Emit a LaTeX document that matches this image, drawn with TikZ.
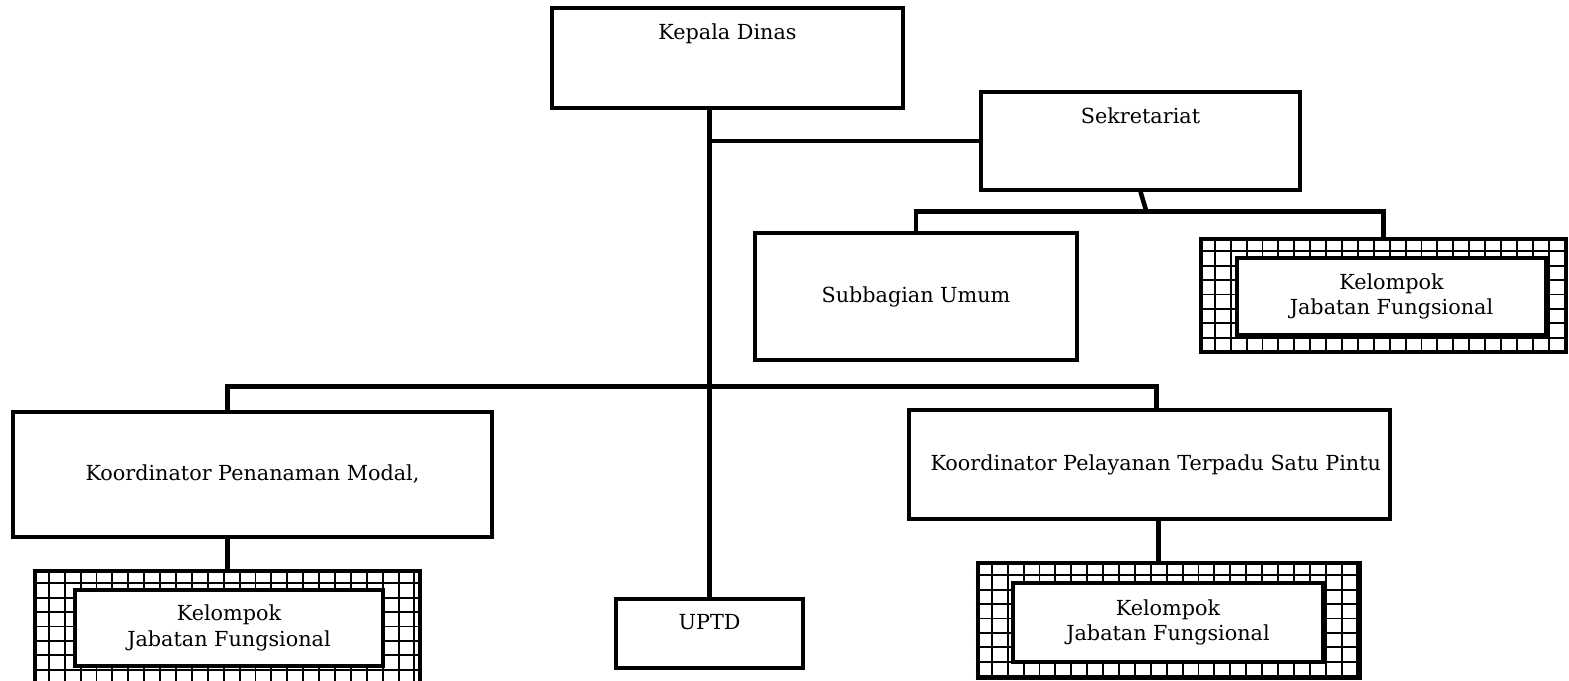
\documentclass[tikz,border=0pt]{standalone}
\usepackage{fontspec}
\setmainfont{DejaVu Serif}
\usetikzlibrary{calc}
\tikzset{
    unit/.style={draw,line width=2pt,inner sep=0pt,align=center},
    toptext/.style={label={[anchor=north,yshift=-0.22cm]north:#1}},
    jfouter/.style={draw,line width=2.4pt,inner sep=0pt},
    jfinner/.style={draw,line width=2.6pt,fill=white,inner sep=0pt,align=center},
    gridline/.style={line width=1.1pt},
    conn/.style={line width=2.6pt}
}
\begin{document}
\begin{tikzpicture}[x=0.02cm,y=-0.02cm,font=\fontsize{11.8}{14.5}\selectfont]
        \useasboundingbox (0,0) rectangle (1569,680);
        %% units
        \node[unit,minimum width=7.02cm,minimum height=2cm,toptext=Kepala Dinas] (kepala) at (727.5,58) {};
        \node[unit,minimum width=6.38cm,minimum height=1.96cm,toptext=Sekretariat] (sekretariat) at (1140.5,141) {};
        \node[unit,minimum width=6.44cm,minimum height=2.54cm] (subbagian) at (916,296.5) {Subbagian Umum};
        \node[unit,minimum width=9.58cm,minimum height=2.5cm] (penanaman) at (252.5,474.5) {Koordinator Penanaman Modal,};
        \node[unit,minimum width=9.62cm,minimum height=2.18cm] (pelayanan) at (1149.5,464.5) {\hspace{0.25cm}Koordinator Pelayanan Terpadu Satu Pintu};
        \node[unit,minimum width=3.74cm,minimum height=1.38cm,toptext=UPTD] (uptd) at (709.5,633.5) {};
        %% kelompok jabatan fungsional
        \foreach \n/\x/\y/\w/\h/\xi/\yi/\wi/\hi in {jfTop/1383.5/295.5/7.3/2.26/1391.5/296.5/6.18/1.54,
                jfLeft/227.5/628.5/7.7/2.3/229/628/6.16/1.52,
                jfRight/1169/620.5/7.64/2.3/1168/622.5/6.2/1.58}{
            \node[jfouter,minimum width=\w cm,minimum height=\h cm] (\n) at (\x,\y) {};
            \begin{scope}
                \clip (\n.south west) rectangle (\n.north east);
                \foreach \k in {1,...,24}
                    \draw[gridline] ([xshift=\k*0.318cm]\n.north west) -- ([xshift=\k*0.318cm]\n.south west);
                \foreach \k in {1,...,8}
                    \draw[gridline] ([yshift=-\k*0.288cm]\n.north west) -- ([yshift=-\k*0.288cm]\n.north east);
            \end{scope}
            \node[jfinner,minimum width=\wi cm,minimum height=\hi cm] (\n-in) at (\xi,\yi) {Kelompok\\Jabatan Fungsional};
        }
        %% lines
        \draw[conn] (uptd.north |- kepala.south) -- (uptd.north);
        \draw[conn] (uptd.north |- sekretariat.west) -- (sekretariat.west);
        \coordinate (sekbus) at ($(sekretariat.south)+(6,20)$);
        \draw[conn] (sekretariat.south) -- (sekbus);
        \draw[conn] (subbagian.north) |- (sekbus) -| (jfTop.north);
        \coordinate (bus) at ($(uptd.north |- penanaman.north)+(0,-24)$);
        \draw[conn] (penanaman.north -| jfLeft.north) |- (bus) -| ([xshift=0.14cm]pelayanan.north);
        \draw[conn] (penanaman.south -| jfLeft.north) -- (jfLeft.north);
        \draw[conn] ([xshift=0.18cm]pelayanan.south) -- ([xshift=0.18cm]pelayanan.south |- jfRight.north);
    \end{tikzpicture}
\end{document}
